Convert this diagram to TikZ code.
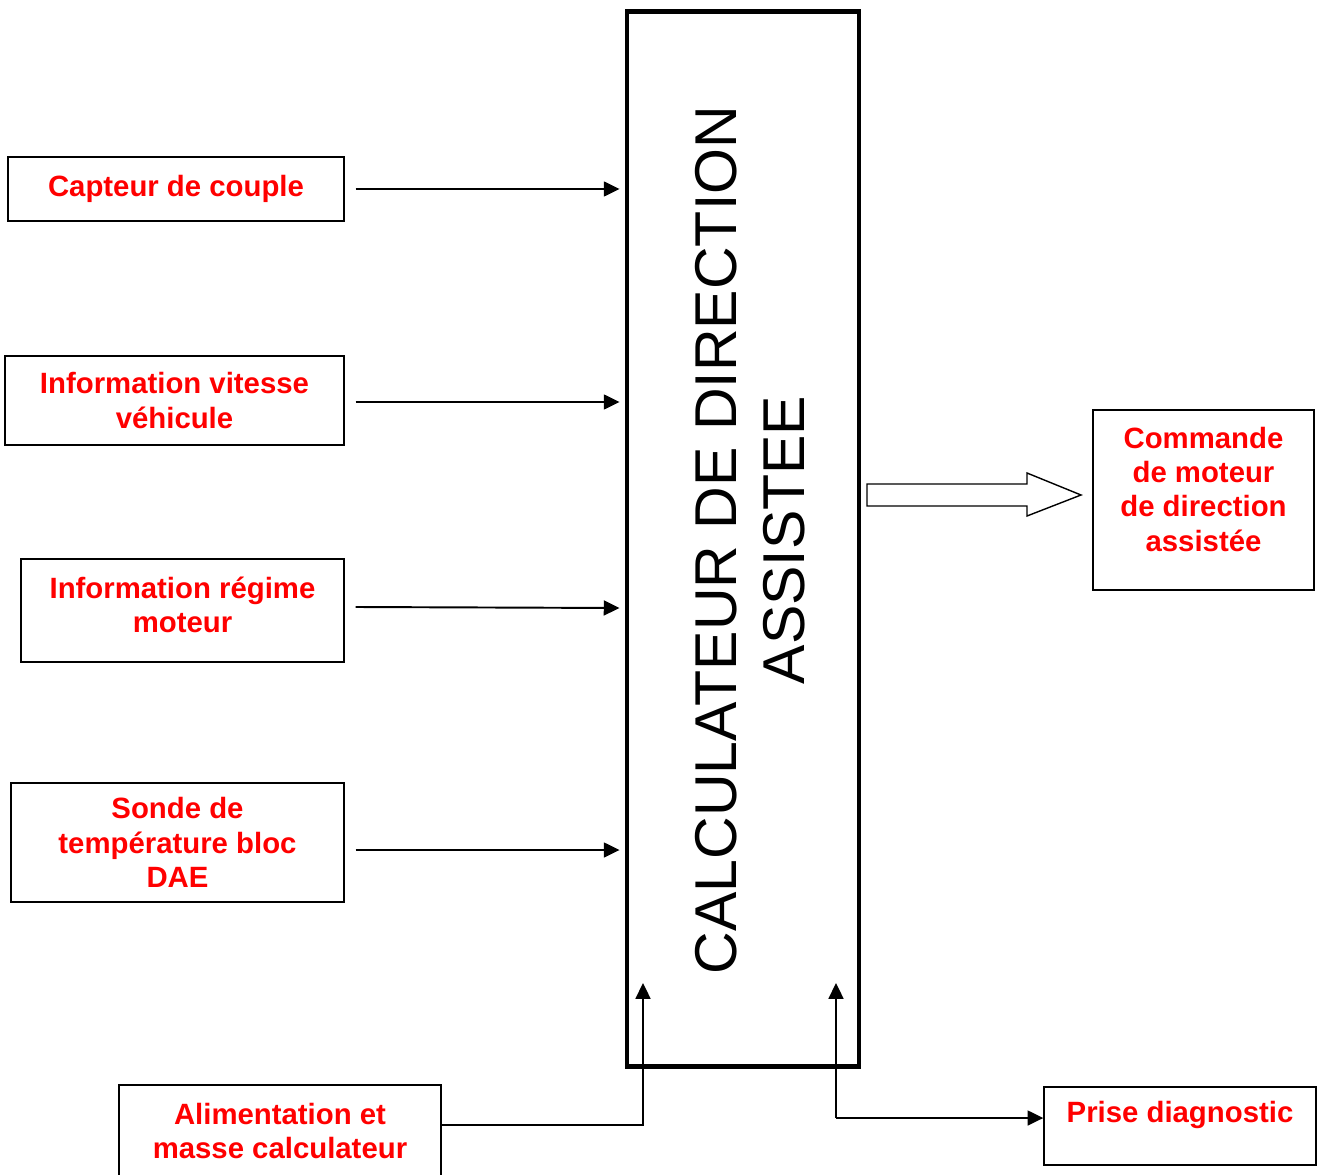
\documentclass[tikz,border=0pt]{standalone}
\usepackage{fontspec}
\setmainfont{Liberation Sans}
\usetikzlibrary{arrows.meta,positioning}

\begin{document}
\begin{tikzpicture}[x=0.02cm,y=-0.02cm,
	bloc/.style={draw,line width=0.8pt,text=red,align=center,inner sep=0pt,
		font=\fontsize{16.7}{19.5}\selectfont\bfseries},
	fleche/.style={line width=1.1pt,-{Triangle[length=9pt,width=8.5pt]}}]
			          %\draw[help lines] (0,0) grid[step=100] (1317,1175);
			          \useasboundingbox (0,0) rectangle (1317,1175);
				  %CALCULATEUR
				  \node[draw,line width=2.8pt,minimum width=4.64cm,minimum height=21.12cm](calc) at (743,539){};
				  \node[rotate=90,align=center,font=\fontsize{33.6}{39}\selectfont](titre) at (750,540){CALCULATEUR DE DIRECTION\\ASSISTEE};
				  %ENTREES
				  \node[bloc,minimum width=6.72cm,minimum height=1.28cm](couple) at (176,189){Capteur de couple};
				  \node[bloc,minimum width=6.78cm,minimum height=1.78cm](vitesse) at (174.5,400.5){Information vitesse\\véhicule};
				  \node[bloc,minimum width=6.46cm,minimum height=2.06cm,text depth=0.24cm](regime) at (182.5,610.5){Information régime\\moteur};
				  \node[bloc,minimum width=6.66cm,minimum height=2.38cm](sonde) at (177.5,842.5){Sonde de\\température bloc\\DAE};
				  \node[bloc,minimum width=6.44cm,minimum height=1.84cm](alim) at (280,1131){Alimentation et\\masse calculateur};
				  %SORTIES
				  \node[bloc,minimum width=4.42cm,minimum height=3.6cm,text depth=0.44cm](commande) at (1203.5,500){Commande\\de moteur\\de direction\\assistée};
				  \node[bloc,minimum width=5.44cm,minimum height=1.56cm,text depth=0.56cm](prise) at (1180,1126){Prise diagnostic};
				  %FLECHES
				  \draw[fleche] ([xshift=0.22cm]couple.east) -- ([xshift=-0.1cm]couple.east -| calc.west);
				  \draw[fleche] ([xshift=0.22cm]vitesse.east |- 0,402) -- ([xshift=-0.1cm]calc.west |- 0,402);
				  \draw[fleche] ([xshift=0.22cm]regime.east |- 0,607) -- ([xshift=-0.1cm]calc.west |- 0,608);
				  \draw[fleche] ([xshift=0.22cm]sonde.east |- 0,850) -- ([xshift=-0.1cm]calc.west |- 0,850);
				  \coordinate(a1) at (643,1125);
				  \coordinate(a2) at (643,983);
				  \draw[fleche] (alim.east |- a1) -- (a1) -- (a2);
				  \coordinate(p1) at (836,983);
				  \coordinate(p2) at (836,1118);
				  \draw[fleche] (p2) -- (p1);
				  \draw[fleche] (p2) -- (prise.west |- p2);
				  %FLECHE CREUSE
				  \draw[line width=0.8pt] (867,484) -- (1027,484) -- (1027,473) -- (1081,495)
					-- (1027,516) -- (1027,506) -- (867,506) -- cycle;
				  \end{tikzpicture}
\end{document}
